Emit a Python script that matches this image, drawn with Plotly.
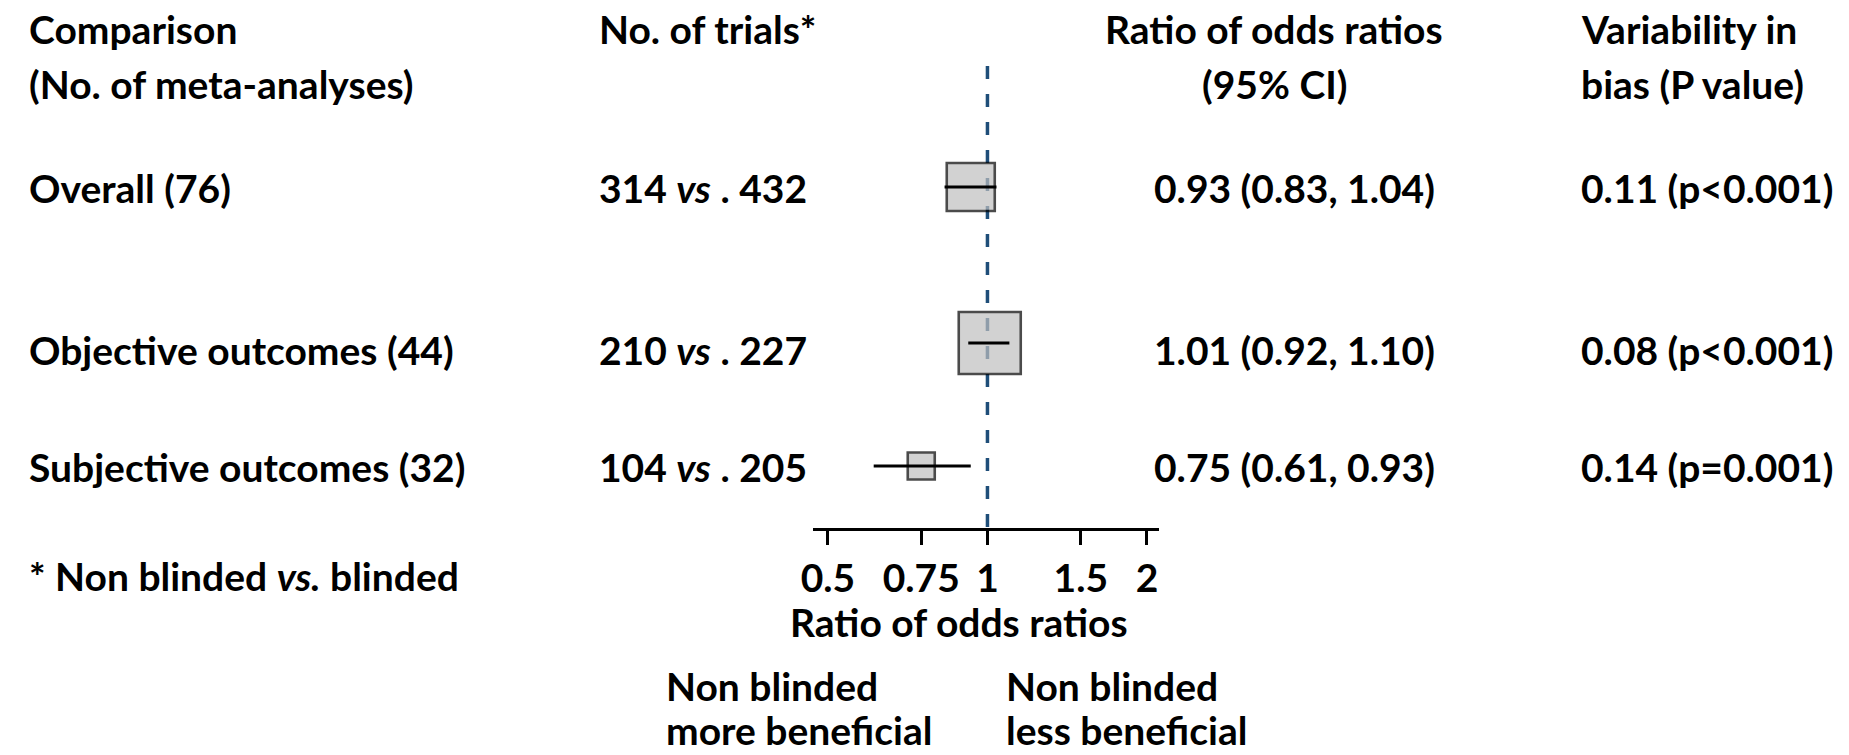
import plotly.graph_objects as go

# ---------------- data ----------------
comparisons = ["Overall (76)", "Objective outcomes (44)", "Subjective outcomes (32)"]
trials_nonblinded = [314, 210, 104]
trials_blinded = [432, 227, 205]
ror = [0.93, 1.01, 0.75]
ci_low = [0.83, 0.92, 0.61]
ci_high = [1.04, 1.10, 0.93]
ror_text = ["0.93 (0.83, 1.04)", "1.01 (0.92, 1.10)", "0.75 (0.61, 0.93)"]
variability_text = ["0.11 (p<0.001)", "0.08 (p<0.001)", "0.14 (p=0.001)"]
tick_values = [0.5, 0.75, 1, 1.5, 2]
tick_labels = ["0.5", "0.75", "1", "1.5", "2"]

# ---------------- layout / style ----------------
W, H = 1849, 755
row_y = [187, 343, 466]          # vertical pixel positions of boxes
text_y = [188, 350, 467]         # vertical pixel positions of row texts
box_px = [48, 62, 27]            # marker sizes (weights), pixels
AXIS_Y = 529
FONT = "Lato"
FS = 39
BLUE = "#1F4E79"

def px(x):
    return x / W

fig = go.Figure()

# reference line at 1
fig.add_trace(go.Scatter(
    x=[1, 1], y=[66, AXIS_Y], mode="lines",
    line=dict(color=BLUE, width=3.5, dash="13px,15px"),
    hoverinfo="skip", showlegend=False))

# boxes
fig.add_trace(go.Scatter(
    x=ror, y=row_y, mode="markers",
    marker=dict(symbol="square", size=box_px, color="#BFBFBF",
                line=dict(color="black", width=2.6)),
    hoverinfo="skip", showlegend=False))

# CI lines (on top of boxes)
ci_x, ci_y = [], []
for lo, hi, yy in zip(ci_low, ci_high, row_y):
    ci_x += [lo, hi, None]
    ci_y += [yy, yy, None]
fig.add_trace(go.Scatter(
    x=ci_x, y=ci_y, mode="lines",
    line=dict(color="black", width=2.8),
    hoverinfo="skip", showlegend=False))

ann = []
def txt(x, y, s, anchor="left", yanchor="middle"):
    ann.append(dict(x=px(x), y=y, xref="paper", yref="y", text=s,
                    showarrow=False, xanchor=anchor, yanchor=yanchor,
                    font=dict(family=FONT, size=FS, color="black", weight="bold")))

# headers
HY1, HY2 = 29, 84
txt(14, HY1, "Comparison")
txt(14, HY2, "(No. of meta-analyses)")
txt(588, HY1, "No. of trials*")
txt(1270, HY1, "Ratio of odds ratios", "center")
txt(1270, HY2, "(95% CI)", "center")
txt(1577, HY1, "Variability in")
txt(1577, HY2, "bias (P value)")

# rows
for i, yy in enumerate(text_y):
    txt(14, yy, comparisons[i])
    txt(588, yy, f"{trials_nonblinded[i]} <i>vs</i> . {trials_blinded[i]}")
    txt(1291, yy, ror_text[i], "center")
    txt(1577, yy, variability_text[i])

# footnote and axis labels
txt(14, 576, "* Non blinded <i>vs.</i> blinded")
txt(953, 622, "Ratio of odds ratios", "center")
txt(656, 686, "Non blinded")
txt(656, 755, "more beneficial", yanchor="bottom")
txt(998, 686, "Non blinded")
txt(998, 755, "less beneficial", yanchor="bottom")

fig.update_layout(
    width=W, height=H,
    margin=dict(l=0, r=0, t=0, b=0),
    paper_bgcolor="white", plot_bgcolor="white",
    font=dict(family=FONT, size=FS, color="black", weight="bold"),
    showlegend=False,
    annotations=ann,
    xaxis=dict(
        type="log",
        domain=[806 / W, 1154 / W],
        range=[-0.32857, 0.32351],
        anchor="free", position=1 - AXIS_Y / H,
        showgrid=False, zeroline=False,
        showline=True, linecolor="black", linewidth=2.5,
        ticks="outside", ticklen=14, tickwidth=2.5, tickcolor="black",
        tickvals=tick_values, ticktext=tick_labels,
        tickfont=dict(family=FONT, size=FS, color="black", weight="bold"),
        fixedrange=True,
    ),
    yaxis=dict(range=[H, 0], domain=[0, 1], visible=False, fixedrange=True),
)

fig.write_html(
    "out.html",
    config={"displayModeBar": False},
    post_script="document.body.style.margin='0';document.body.style.overflow='hidden';",
)
